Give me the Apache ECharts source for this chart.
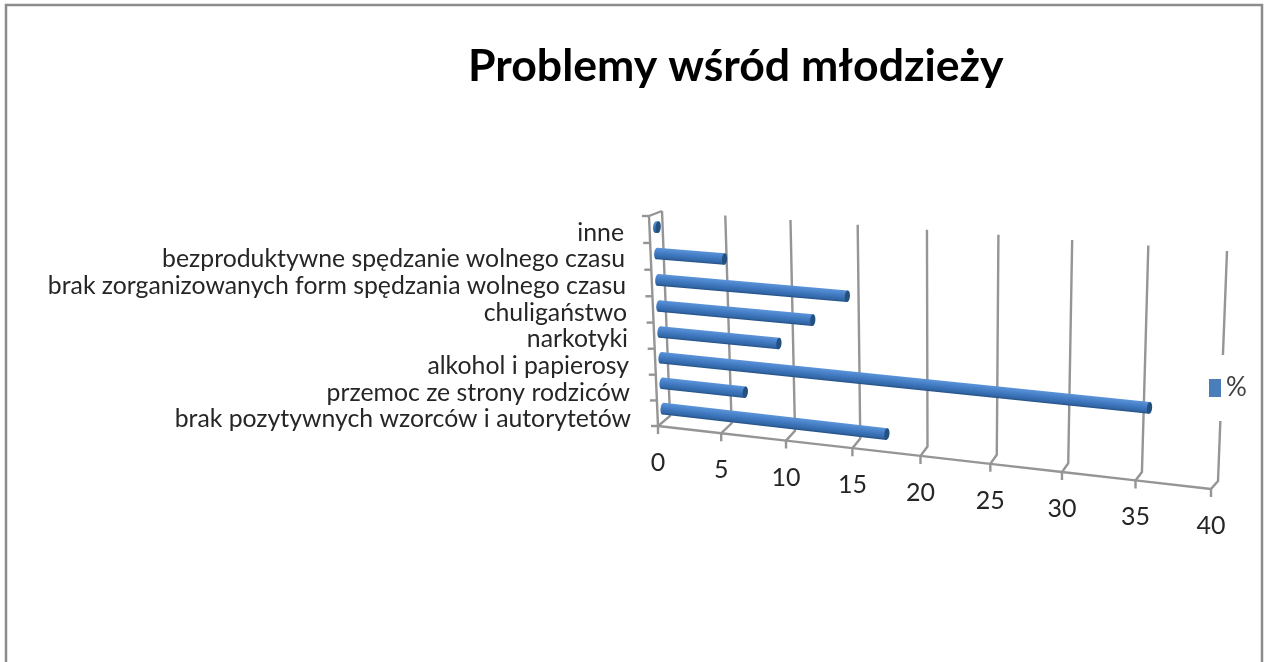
<!DOCTYPE html>
<html lang="pl">

<head>
    <meta charset="UTF-8">
    <title>Problemy wśród młodzieży</title>
    <script src="https://cdn.jsdelivr.net/npm/echarts@6/dist/echarts.min.js"></script>
    <style>
        html, body { margin: 0; padding: 0; background: #fff; }
    </style>
</head>

<body>
    <div id="main" style="width: 1264px;height:662px;"></div>

    <script type="text/javascript">
        const chartTitle = 'Problemy wśród młodzieży';
        const seriesName = '%';
        const categories = [
            'brak pozytywnych wzorców i autorytetów',
            'przemoc ze strony rodziców',
            'alkohol i papierosy',
            'narkotyki',
            'chuligaństwo',
            'brak zorganizowanych form spędzania wolnego czasu',
            'bezproduktywne spędzanie wolnego czasu',
            'inne'
        ];
        const values = [17.3, 6.6, 35.6, 9.3, 11.9, 14.5, 5.3, 0.2];
        const xTicks = [0, 5, 10, 15, 20, 25, 30, 35, 40];

        const lineColor = '#959595';
        const textColor = '#262626';

        // the walls of the 3D box, corners: 0 bottom, 40 bottom, 40 top, 0 top
        const backWall = quadMap([[670, 416], [1218, 481], [1227, 251], [662, 211]]);
        const frontWall = quadMap([[658, 426], [1211, 489], [1220, 258], [649, 216]]);

        // unit square -> quad, keeps the perspective of the original picture
        function quadMap(q) {
            const [x0, y0] = q[0], [x1, y1] = q[1], [x2, y2] = q[2], [x3, y3] = q[3];
            const dx1 = x1 - x2, dx2 = x3 - x2, sx = x0 - x1 + x2 - x3;
            const dy1 = y1 - y2, dy2 = y3 - y2, sy = y0 - y1 + y2 - y3;
            const den = dx1 * dy2 - dx2 * dy1;
            const g = (sx * dy2 - dx2 * sy) / den;
            const h = (dx1 * sy - sx * dy1) / den;
            const a = x1 - x0 + g * x1, b = x3 - x0 + h * x3;
            const d = y1 - y0 + g * y1, e = y3 - y0 + h * y3;
            return function (u, v) {
                const w = g * u + h * v + 1;
                return [(a * u + b * v + x0) / w, (d * u + e * v + y0) / w];
            };
        }

        // grid pixel -> picture pixel, depth 0 is the front edge, 1 the back wall
        function project(point, rect, depth) {
            const u = (point[0] - rect.x) / rect.width;
            const v = (rect.y + rect.height - point[1]) / rect.height;
            const f = frontWall(u, v), b = backWall(u, v);
            return [f[0] + (b[0] - f[0]) * depth, f[1] + (b[1] - f[1]) * depth];
        }

        function polyline(points, width) {
            return {
                type: 'polyline',
                shape: { points: points },
                style: { fill: null, stroke: lineColor, lineWidth: width || 2.4 }
            };
        }

        function renderWall(params, api) {
            const rect = params.coordSys;
            const tick = api.value(0);
            const low = api.coord([tick, 0])[0];
            const bottom = [low, rect.y + rect.height];
            const top = [low, rect.y];
            const front = project(bottom, rect, 0);
            const children = [
                polyline([project(top, rect, 1), project(bottom, rect, 1), front, [front[0], front[1] + 8]]),
                {
                    type: 'text',
                    x: front[0],
                    y: front[1] + 37,
                    style: {
                        text: String(tick),
                        fill: textColor,
                        font: '25px Lato',
                        align: 'center',
                        verticalAlign: 'middle'
                    }
                }
            ];
            if (params.dataIndex > 0) {
                const prev = api.coord([xTicks[params.dataIndex - 1], 0])[0];
                children.push(polyline([project([prev, bottom[1]], rect, 0), front]));
            } else {
                children.push(polyline([front, project(top, rect, 0), project(top, rect, 1)]));
            }
            return { type: 'group', children: children };
        }

        function renderCategoryTick(params, api) {
            const rect = params.coordSys;
            const band = api.size([0, 1])[1];
            const centre = api.coord([0, api.value(0)]);
            const tickAt = function (y) {
                const p = project([centre[0], y], rect, 0);
                return polyline([[p[0] - 7, p[1]], p]);
            };
            const children = [tickAt(centre[1] + band / 2)];
            if (params.dataIndex === categories.length - 1) {
                children.push(tickAt(centre[1] - band / 2));
            }
            return { type: 'group', children: children };
        }

        function renderBar(params, api) {
            const rect = params.coordSys;
            const idx = api.value(0);
            const band = api.size([0, 1])[1];
            const start = project(api.coord([0, idx]), rect, 0.47);
            const end = project(api.coord([api.value(1), idx]), rect, 0.47);
            const dx = end[0] - start[0], dy = end[1] - start[1];
            const len = Math.sqrt(dx * dx + dy * dy);
            const t = band * 0.44;
            const body = new echarts.graphic.LinearGradient(0, 0, 0, 1, [
                { offset: 0, color: '#5c94da' },
                { offset: 0.5, color: '#4079c0' },
                { offset: 0.82, color: '#3368a8' },
                { offset: 1, color: '#234f84' }
            ]);
            return {
                type: 'group',
                x: start[0],
                y: start[1],
                rotation: -Math.atan2(dy, dx),
                children: [
                    { type: 'ellipse', shape: { cx: 0, cy: 0, rx: 2.6, ry: t / 2 }, style: { fill: body } },
                    { type: 'rect', shape: { x: 0, y: -t / 2, width: len, height: t }, style: { fill: body } },
                    { type: 'ellipse', shape: { cx: len, cy: 0, rx: 2.6, ry: t / 2 }, style: { fill: '#24507f' } }
                ]
            };
        }

        const myChart = echarts.init(document.getElementById('main'));

        const option = {
            animation: false,
            backgroundColor: '#fff',
            textStyle: { fontFamily: 'Lato' },
            title: {
                text: chartTitle,
                left: 468,
                top: 44,
                padding: 0,
                textStyle: { fontFamily: 'Lato', fontSize: 44.6, fontWeight: 'bold', color: '#000' }
            },
            legend: {
                data: [seriesName],
                left: 1205,
                top: 355,
                padding: [20, 4, 20, 4],
                icon: 'rect',
                itemWidth: 12,
                itemHeight: 18,
                backgroundColor: '#fff',
                textStyle: { fontFamily: 'Lato', fontSize: 26, color: '#404040' }
            },
            grid: { left: 640, top: 219.5, width: 560, height: 213 },
            xAxis: {
                type: 'value',
                min: 0,
                max: 40,
                interval: 5,
                axisLine: { show: false },
                axisTick: { show: false },
                axisLabel: { show: false },
                splitLine: { show: false }
            },
            yAxis: {
                type: 'category',
                data: categories,
                axisLine: { show: false },
                axisTick: { show: false },
                axisLabel: {
                    interval: 0,
                    margin: 9,
                    // labels follow the leaning wall, higher rows sit further left
                    formatter: function (value, index) {
                        return '{r' + index + '|' + value + '}';
                    },
                    rich: Object.fromEntries(categories.map(function (c, i) {
                        return ['r' + i, { fontFamily: 'Lato', fontSize: 24.8, color: textColor, padding: [0, i, 0, 0] }];
                    }))
                }
            },
            series: [
                {
                    type: 'custom',
                    silent: true,
                    renderItem: renderWall,
                    encode: { x: 0 },
                    data: xTicks.map(function (t) { return [t]; })
                },
                {
                    type: 'custom',
                    silent: true,
                    renderItem: renderCategoryTick,
                    encode: { y: 0 },
                    data: categories.map(function (c, i) { return [i]; })
                },
                {
                    name: seriesName,
                    type: 'custom',
                    silent: true,
                    itemStyle: { color: '#4a7ebb' },
                    renderItem: renderBar,
                    encode: { y: 0, x: 1 },
                    data: values.map(function (v, i) { return [i, v]; })
                }
            ],
            graphic: [{
                type: 'rect',
                silent: true,
                shape: { x: 6, y: 5, width: 1256, height: 670 },
                style: { fill: null, stroke: '#8c8c8c', lineWidth: 2.5 }
            }]
        };

        myChart.setOption(option);
    </script>
</body>

</html>
